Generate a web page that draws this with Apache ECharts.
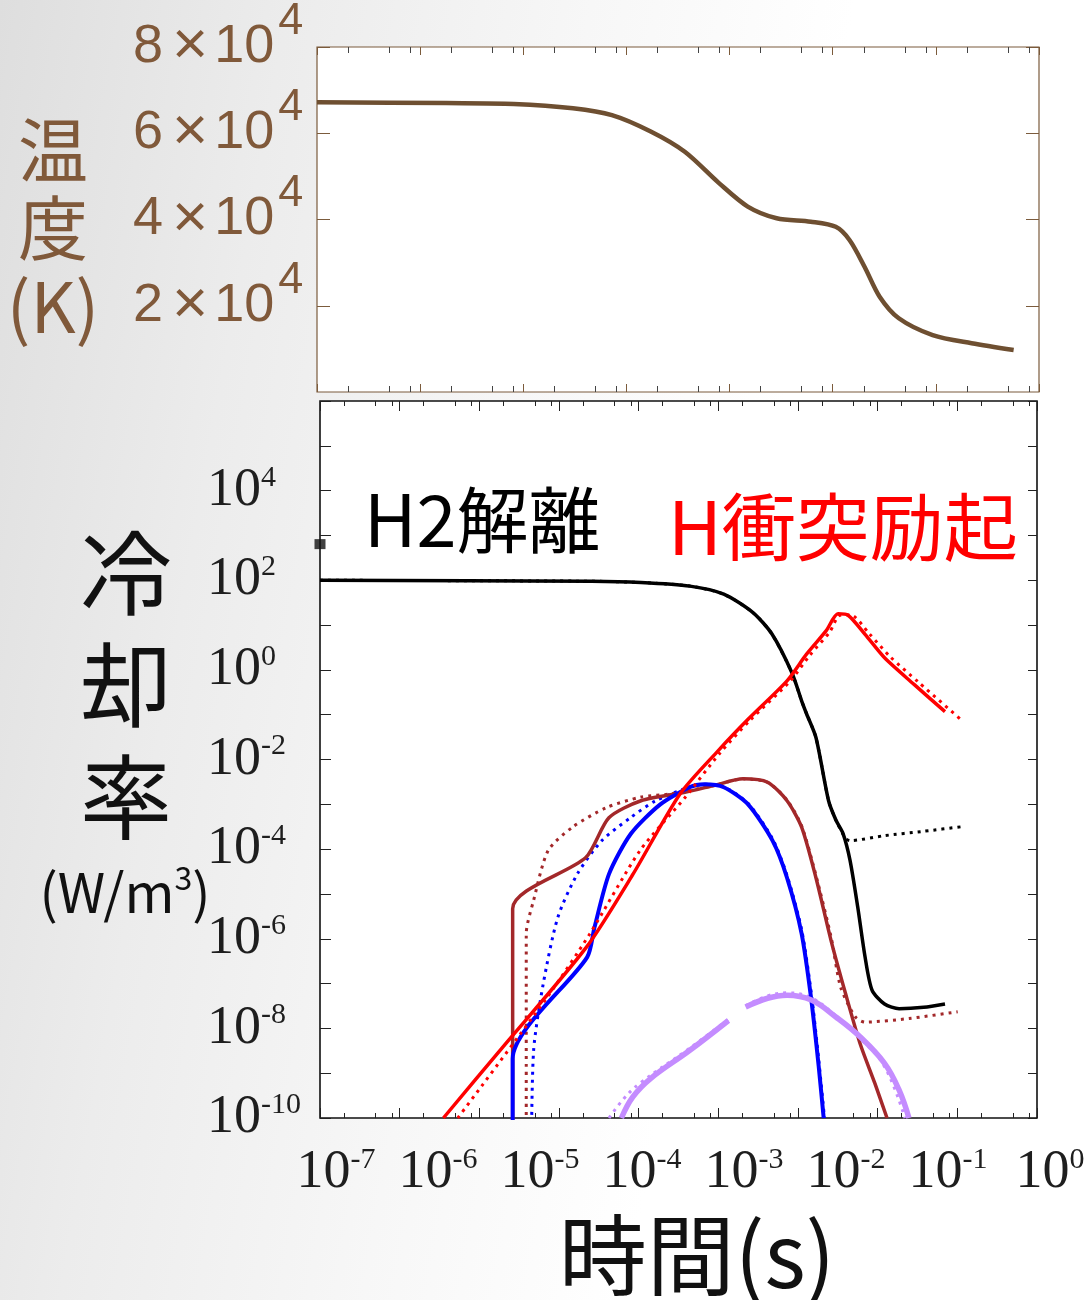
<!DOCTYPE html>
<html><head><meta charset="utf-8">
<script src="https://cdn.jsdelivr.net/npm/echarts@6/dist/echarts.min.js"></script>
<style>
html,body{margin:0;padding:0;}
body{background:linear-gradient(100deg,#dedede 0%,#ececec 22%,#f7f7f7 45%,#ffffff 65%);}
#c{width:1087px;height:1300px;}
</style></head><body><div id="c"></div>
<script>
// ---------- temperature (top panel) ----------
const tempTime = [1e-7, 1.78e-6, 8.1e-6, 3.03e-5, 7.23e-5, 1.72e-4, 3.68e-4, 7.85e-4, 1.50e-3, 2.86e-3, 6.12e-3, 1.07e-2, 1.46e-2, 2.04e-2, 2.85e-2, 4.37e-2, 9.31e-2, 0.222, 0.568];
const tempK    = [67200, 67000, 66800, 65800, 64200, 60400, 55700, 48500, 43000, 40300, 39500, 38300, 35200, 29000, 22100, 17100, 13200, 11300, 9740];

// ---------- cooling rates (bottom panel) ----------
const h2Time = [1e-8, 2.58e-5, 1.07e-4, 4.40e-4, 1.17e-3, 2.72e-3, 4.71e-3, 8.41e-3, 1.11e-2, 1.28e-2, 1.68e-2, 2.42e-2, 3.0e-2, 3.67e-2, 4.50e-2, 5.62e-2, 6.95e-2, 8.51e-2, 0.122, 0.186, 0.378, 0.70];
const h2Rate = [100, 95, 89, 74, 49, 19, 6.3, 0.85, 0.204, 0.105, 3.1e-2, 1.2e-3, 4.4e-4, 2.24e-4, 5.6e-5, 5.1e-6, 3.9e-7, 7.1e-8, 3.5e-8, 2.75e-8, 2.95e-8, 3.5e-8];
const h2DotTime = [1e-8, 2.58e-5, 1.07e-4, 4.40e-4, 1.17e-3, 2.72e-3, 4.71e-3, 8.41e-3, 1.11e-2, 1.28e-2, 1.68e-2, 2.42e-2, 3.0e-2, 3.95e-2, 4.5e-2, 0.122, 0.378, 1.2];
const h2DotRate = [100, 95, 89, 74, 49, 19, 6.3, 0.85, 0.204, 0.105, 3.1e-2, 1.2e-3, 4.4e-4, 1.74e-4, 1.55e-4, 2.0e-4, 2.5e-4, 3.2e-4];

const redTime = [3.54e-7, 1.90e-6, 2.21e-5, 8.53e-5, 3.30e-4, 9.98e-4, 2.36e-3, 7.28e-3, 1.28e-2, 2.25e-2, 3.18e-2, 4.25e-2, 6.95e-2, 0.122, 0.284, 0.70];
const redRate = [1e-10, 3.55e-9, 6.5e-7, 2.8e-5, 1.7e-3, 1.58e-2, 7.9e-2, 0.57, 2.24, 7.4, 17.8, 16.6, 6.2, 1.86, 0.48, 0.117];
const redDotTime = [5.36e-7, 6.97e-6, 2.44e-5, 1.04e-4, 3.80e-4, 1.05e-3, 2.5e-3, 7.9e-3, 1.4e-2, 2.5e-2, 3.35e-2, 4.6e-2, 7.8e-2, 0.142, 0.33, 1.08];
const redDotRate = [1e-10, 4.7e-8, 1.29e-6, 9.3e-5, 1.4e-3, 1.4e-2, 7.5e-2, 0.55, 2.1, 7.0, 16.5, 16.8, 6.5, 2.0, 0.52, 8.1e-2];

const brownTime = [2.62e-6, 2.62e-6, 2.17e-5, 4.23e-5, 1.07e-4, 3.80e-4, 8.81e-4, 2.04e-3, 4.15e-3, 7.28e-3, 1.11e-2, 1.68e-2, 2.60e-2, 3.95e-2, 6.01e-2, 9.23e-2, 0.131];
const brownRate = [1e-11, 4.7e-6, 6.5e-5, 5.0e-4, 1.2e-3, 1.86e-3, 2.63e-3, 3.7e-3, 3.1e-3, 1.2e-3, 3.1e-4, 2.3e-5, 9.1e-7, 6.0e-8, 4.6e-9, 5.9e-10, 1e-10];
const brownDotTime = [3.88e-6, 3.88e-6, 4.80e-6, 7.31e-6, 1.48e-5, 3.97e-5, 1.07e-4, 2.47e-4, 8.81e-4, 2.04e-3, 4.15e-3, 7.28e-3, 1.11e-2, 1.68e-2, 2.60e-2, 3.43e-2, 5.25e-2, 6.95e-2, 0.247, 1.01];
const brownDotRate = [1e-11, 1.3e-6, 7.2e-6, 9.3e-5, 3.1e-4, 8.5e-4, 1.45e-3, 1.7e-3, 2.63e-3, 3.7e-3, 3.1e-3, 1.25e-3, 3.3e-4, 2.6e-5, 1.1e-6, 8.3e-8, 1.8e-8, 1.38e-8, 1.66e-8, 2.35e-8];

const blueTime = [2.62e-6, 2.62e-6, 2.26e-5, 2.79e-5, 4.25e-5, 7.98e-5, 1.87e-4, 4.35e-4, 6.65e-4, 1.17e-3, 2.36e-3, 4.79e-3, 7.28e-3, 1.11e-2, 1.47e-2, 1.82e-2, 2.10e-2];
const blueRate = [1e-11, 2.1e-9, 3.9e-7, 1.8e-6, 2.8e-5, 2.2e-4, 1.0e-3, 2.4e-3, 2.8e-3, 2.4e-3, 1.0e-3, 1.55e-4, 2.3e-5, 1.3e-6, 4.3e-8, 1.4e-9, 1e-10];
const blueDotTime = [4.48e-6, 4.80e-6, 6.35e-6, 9.66e-6, 1.70e-5, 3.45e-5, 7.98e-5, 1.63e-4, 4.35e-4, 6.65e-4, 1.17e-3, 2.36e-3, 4.79e-3, 7.28e-3, 1.11e-2, 1.47e-2, 1.82e-2, 2.15e-2];
const blueDotRate = [1e-11, 3.2e-9, 1e-7, 3.0e-6, 2.8e-5, 1.55e-4, 5.1e-4, 1.2e-3, 2.45e-3, 2.8e-3, 2.45e-3, 1.05e-3, 1.7e-4, 2.6e-5, 1.6e-6, 6e-8, 2e-9, 1e-10];

const purpleTime = [6.07e-5, 8.45e-5, 1.41e-4, 4.35e-4, 1.34e-3, 1.7e-3, 2.20e-3, 4.15e-3, 7.28e-3, 1.47e-2, 2.99e-2, 6.01e-2, 0.122, 0.186, 0.247];
const purpleRate = [1e-10, 2.96e-10, 7.6e-10, 3.2e-9, 1.5e-8, null, 3.0e-8, 4.7e-8, 5.5e-8, 4.3e-8, 1.8e-8, 6.5e-9, 1.66e-9, 4.2e-10, 1e-10];
const purpleDotTime = [4.25e-5, 6.5e-5, 1.04e-4, 4.35e-4, 1.34e-3, 1.7e-3, 2.2e-3, 4.15e-3, 7.28e-3, 1.47e-2, 2.99e-2, 6.01e-2, 0.122, 0.22];
const purpleDotRate = [1e-10, 2.7e-10, 6e-10, 3.6e-9, 1.6e-8, null, 3.2e-8, 5.3e-8, 6.2e-8, 4.8e-8, 1.9e-8, 6.0e-9, 1.4e-9, 1e-10];

const markerTime = [1e-8];
const markerRate = [640];

// ---------- ticks and labels ----------
const tempTimeDecades = [1e-7, 1e-6, 1e-5, 1e-4, 1e-3, 1e-2, 1e-1, 1];
const rateTimeDecades = [1e-8, 1e-7, 1e-6, 1e-5, 1e-4, 1e-3, 1e-2, 1e-1, 1, 10];
const rateDecades = [1e-10,1e-9,1e-8,1e-7,1e-6,1e-5,1e-4,1e-3,1e-2,1e-1,1,10,100,1e3,1e4,1e5,1e6];
const rateLabelValues = [1e-10, 1e-8, 1e-6, 1e-4, 1e-2, 1, 100, 1e4];
const tempTicks = [2e4, 4e4, 6e4, 8e4];
const timeLabelValues = [1e-7, 1e-6, 1e-5, 1e-4, 1e-3, 1e-2, 1e-1, 1];
const minorMultipliers = [2, 5, 8];

function minorOf(decades) {
  const out = [];
  for (let i = 0; i < decades.length - 1; i++) minorMultipliers.forEach(m => out.push(+(decades[i] * m).toPrecision(6)));
  return out;
}
const tempTimeMinor = minorOf(tempTimeDecades);
const rateTimeMinor = minorOf(rateTimeDecades);

const BROWN_AX = '#7b5b3c';
const BROWN_TXT = '#80593a';
const BROWN_LINE = '#6e4f31';

function tickAxis(type, grid, pos, min, max, vals, len, color) {
  const a = {
    type: type, gridIndex: grid, position: pos, min: min, max: max,
    axisLine: { show: false, onZero: false },
    axisTick: { show: true, inside: true, length: len, customValues: vals, lineStyle: { color: color, width: 1 } },
    axisLabel: { show: false }, splitLine: { show: false }, minorTick: { show: false }
  };
  if (type === 'log') a.logBase = 10;
  return a;
}

const serifRich = {
  a: { fontFamily: 'Liberation Serif', fontSize: 54, lineHeight: 56, color: '#1e1e1e' },
  b: { fontFamily: 'Liberation Serif', fontSize: 30, lineHeight: 36, verticalAlign: 'top', color: '#1e1e1e' }
};

const xAxes = [
  tickAxis('log', 0, 'bottom', 1e-7, 1, tempTimeDecades, 8, BROWN_AX),
  tickAxis('log', 0, 'bottom', 1e-7, 1, tempTimeMinor, 6, '#444'),
  tickAxis('log', 0, 'top', 1e-7, 1, tempTimeDecades, 8, BROWN_AX),
  tickAxis('log', 0, 'top', 1e-7, 1, tempTimeMinor, 6, '#444'),
  tickAxis('log', 1, 'bottom', 1e-8, 10, rateTimeDecades, 10, '#222'),
  tickAxis('log', 1, 'bottom', 1e-8, 10, rateTimeMinor, 5, '#222'),
  tickAxis('log', 1, 'top', 1e-8, 10, rateTimeDecades, 10, '#222'),
  tickAxis('log', 1, 'top', 1e-8, 10, rateTimeMinor, 5, '#222'),
  {
    type: 'log', logBase: 10, gridIndex: 2, position: 'bottom', min: 1e-7, max: 1,
    axisLine: { show: false, onZero: false }, axisTick: { show: false }, splitLine: { show: false },
    axisLabel: {
      show: true, margin: 26, customValues: timeLabelValues,
      formatter: v => '{a|10}{b|' + Math.round(Math.log10(v)) + '}',
      rich: serifRich
    }
  }
];

const tempYLeft = tickAxis('value', 0, 'left', 0, 8e4, tempTicks, 13, BROWN_AX);
tempYLeft.axisLabel = {
  show: true, align: 'left', margin: 184, customValues: tempTicks,
  formatter: v => '{n|' + (v / 1e4) + '}{x|×}{t|10}{b|4}',
  rich: {
    n: { fontFamily: 'Liberation Sans', fontSize: 54, lineHeight: 96, color: BROWN_TXT },
    x: { fontFamily: 'Liberation Sans', fontSize: 62, lineHeight: 96, color: BROWN_TXT, padding: [0, 0, 0, 9] },
    t: { fontFamily: 'Liberation Sans', fontSize: 54, lineHeight: 96, color: BROWN_TXT, padding: [0, 0, 0, 6] },
    b: { fontFamily: 'Liberation Sans', fontSize: 45, lineHeight: 45, verticalAlign: 'top', color: BROWN_TXT, padding: [0, 0, 0, 4] }
  }
};
const rateYLeft = tickAxis('log', 1, 'left', 1e-10, 1e6, rateDecades, 11, '#222');
rateYLeft.axisLabel = {
  show: true, align: 'left', margin: 113, customValues: rateLabelValues,
  formatter: v => '{a|10}{b|' + Math.round(Math.log10(v)) + '}',
  rich: serifRich
};
const yAxes = [
  tempYLeft,
  tickAxis('value', 0, 'right', 0, 8e4, tempTicks, 13, BROWN_AX),
  rateYLeft,
  tickAxis('log', 1, 'right', 1e-10, 1e6, rateDecades, 9, '#222'),
  { type: 'value', gridIndex: 2, show: false, min: 0, max: 1 }
];

function zip(t, v) { return t.map((x, i) => [x, v[i] === null ? '-' : v[i]]); }
function rateLine(name, t, v, color, width, dotted, z, smooth) {
  return {
    name: name, type: 'line', xAxisIndex: 4, yAxisIndex: 2, data: zip(t, v),
    showSymbol: false, symbol: 'none', smooth: smooth == null ? 0.25 : smooth, connectNulls: false, z: z,
    lineStyle: { color: color, width: width, type: dotted ? [3, 5] : 'solid', cap: 'butt' }
  };
}

const RED = '#ff0000', BLUE = '#0000ff', BRN = '#a3282a', PURP = '#c48cff';

const option = {
  backgroundColor: 'transparent',
  animation: false,
  grid: [
    { left: 317, top: 47, width: 722, height: 345, show: true, backgroundColor: '#ffffff', borderColor: BROWN_AX, borderWidth: 1.2, outerBoundsMode: 'none' },
    { left: 320, top: 401, width: 717, height: 717, show: true, backgroundColor: '#ffffff', borderColor: '#111', borderWidth: 1.6, outerBoundsMode: 'none' },
    { left: 336, top: 1117, width: 714, height: 2, show: false, outerBoundsMode: 'none' }
  ],
  xAxis: xAxes,
  yAxis: yAxes,
  series: [
    { name: '温度', type: 'line', xAxisIndex: 0, yAxisIndex: 0, data: zip(tempTime, tempK), showSymbol: false, symbol: 'none', smooth: 0.3,
      lineStyle: { color: BROWN_LINE, width: 4.5 } },
    rateLine('H2解離(点線)', h2DotTime, h2DotRate, '#000', 3, true, 2),
    rateLine('H2解離', h2Time, h2Rate, '#000', 3.5, false, 3),
    rateLine('brown dotted', brownDotTime, brownDotRate, BRN, 3, true, 2),
    rateLine('brown', brownTime, brownRate, BRN, 3.5, false, 3),
    rateLine('blue dotted', blueDotTime, blueDotRate, BLUE, 3, true, 2),
    rateLine('blue', blueTime, blueRate, BLUE, 4, false, 3),
    rateLine('purple dotted', purpleDotTime, purpleDotRate, PURP, 3, true, 2, 0.4),
    rateLine('purple', purpleTime, purpleRate, PURP, 5.5, false, 3, 0.4),
    rateLine('H衝突励起(点線)', redDotTime, redDotRate, RED, 3, true, 4),
    rateLine('H衝突励起', redTime, redRate, RED, 3.5, false, 5),
    { type: 'scatter', xAxisIndex: 4, yAxisIndex: 2, data: zip(markerTime, markerRate), symbol: 'rect', symbolSize: [11, 10],
      itemStyle: { color: '#111' }, clip: false, z: 6 }
  ],
  graphic: { elements: [
    { type: 'text', x: 53, y: 228, z: 10, style: { text: '温\n度\n(K)', fill: BROWN_TXT, font: '70px "Noto Sans CJK JP"', lineHeight: 78, align: 'center', verticalAlign: 'middle' } },
    { type: 'text', x: 126, y: 685, z: 10, style: { text: '冷\n却\n率', fill: '#111', font: '92px "Noto Sans CJK JP"', lineHeight: 112, align: 'center', verticalAlign: 'middle' } },
    { type: 'text', x: 125, y: 892, z: 10, style: { text: '{p|(W/m}{s|3}{p|)}', align: 'center', verticalAlign: 'middle',
        rich: { p: { fontFamily: 'Noto Sans CJK JP', fontSize: 54, lineHeight: 60, fill: '#111', color: '#111' },
                s: { fontFamily: 'Noto Sans CJK JP', fontSize: 32, lineHeight: 40, verticalAlign: 'top', fill: '#111', color: '#111' } } } },
    { type: 'text', x: 697, y: 1255, z: 10, style: { text: '時間(s)', fill: '#111', font: '88px "Noto Sans CJK JP"', align: 'center', verticalAlign: 'middle' } },
    { type: 'text', x: 364, y: 520, z: 10, style: { text: 'H2解離', fill: '#000', font: '72px "Noto Sans CJK JP"', align: 'left', verticalAlign: 'middle' } },
    { type: 'text', x: 668, y: 527, z: 10, style: { text: 'H衝突励起', fill: RED, font: '74px "Noto Sans CJK JP"', align: 'left', verticalAlign: 'middle' } }
  ] }
};

const chart = echarts.init(document.getElementById('c'), null, { renderer: 'canvas' });
chart.setOption(option);
</script></body></html>
